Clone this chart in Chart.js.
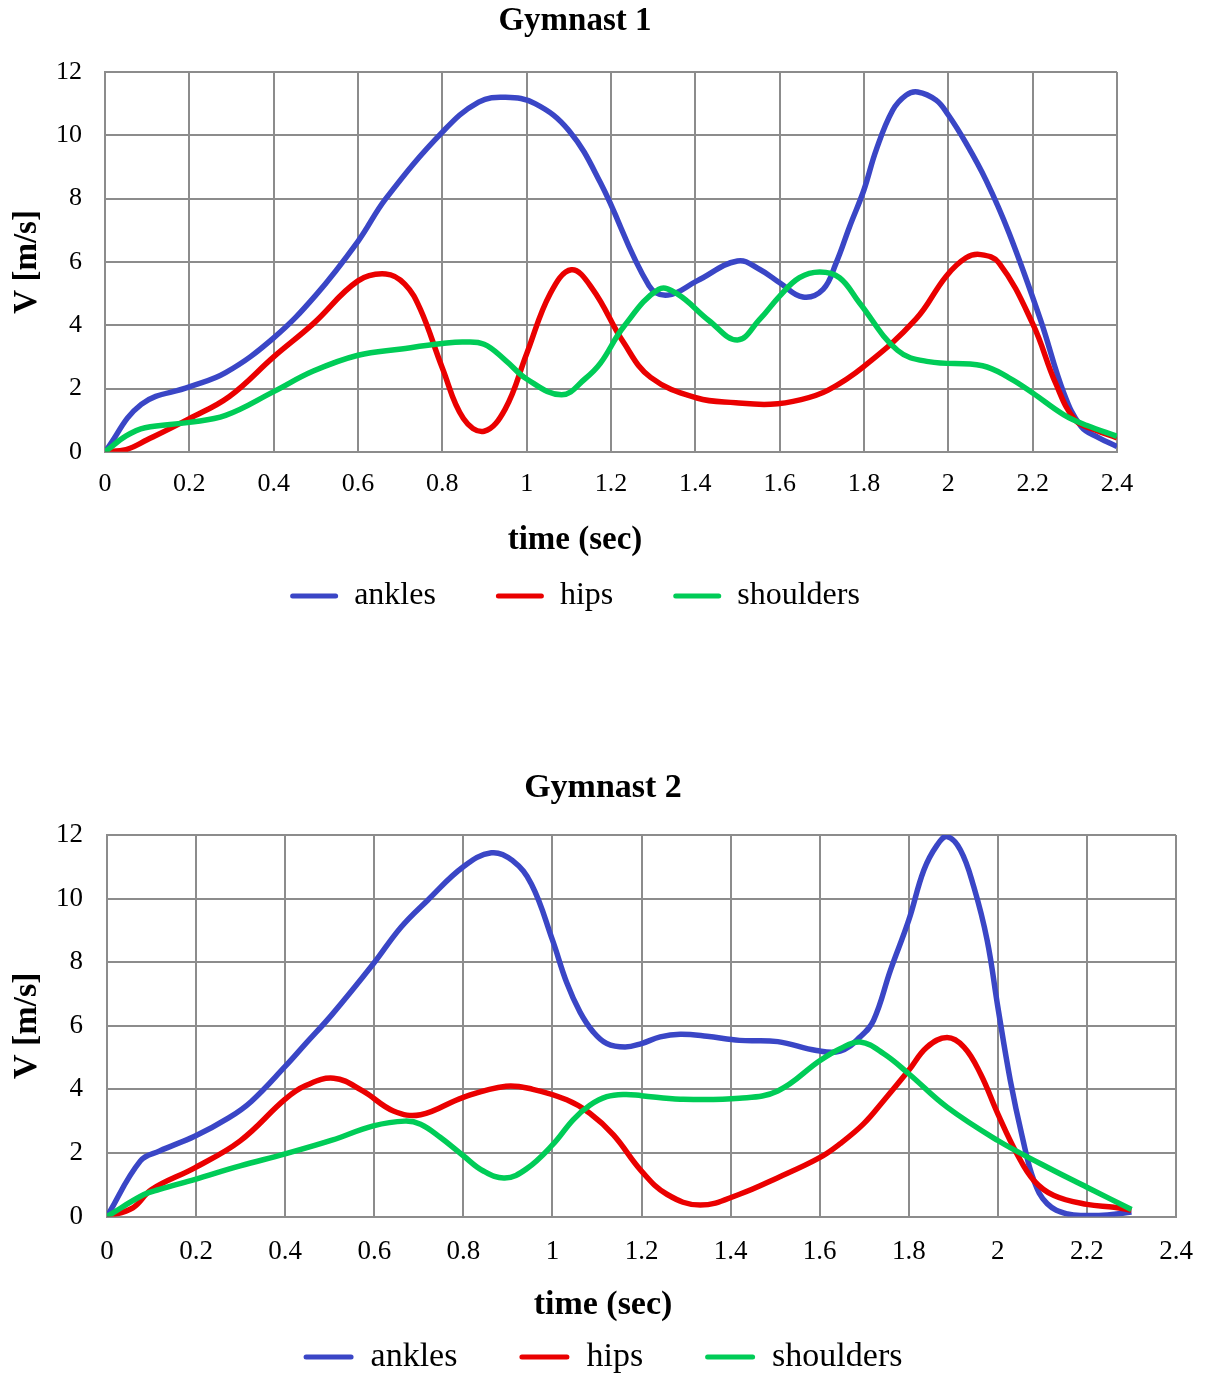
<!DOCTYPE html>
<html>
<head>
<meta charset="utf-8">
<title>Gymnast velocities</title>
<script src="https://cdn.jsdelivr.net/npm/chart.js@4.4.1/dist/chart.umd.min.js"></script>
<style>
  html, body { margin: 0; padding: 0; background: #fff; overflow: hidden; }
  .box { position: absolute; left: 0; width: 1206px; }
  #box1 { top: 0; height: 622px; }
  #box2 { top: 760px; height: 624px; }
</style>
</head>
<body>
<div class="box" id="box1"><canvas id="chart1"></canvas></div>
<div class="box" id="box2"><canvas id="chart2"></canvas></div>

<script>
// series names and colours
const seriesNames = ['ankles', 'hips', 'shoulders'];
const seriesColors = ['#3a46c6', '#ea0000', '#00cc57'];

// Gymnast 1 - time (sec) / V (m/s)
const g1AnklesT = [0, 0.086, 0.2, 0.286, 0.4, 0.5, 0.6, 0.666, 0.8, 0.886, 0.95, 1.02, 1.1, 1.175, 1.29, 1.335, 1.404, 1.5, 1.553, 1.6, 1.655, 1.703, 1.734, 1.766, 1.8, 1.829, 1.868, 1.9, 1.927, 1.971, 2.0, 2.042, 2.089, 2.144, 2.219, 2.274, 2.315, 2.356, 2.4];
const g1AnklesV = [0, 1.5, 2.05, 2.5, 3.6, 4.95, 6.65, 8.0, 10.1, 11.05, 11.2, 11.0, 10.15, 8.5, 5.25, 4.95, 5.4, 6.03, 5.76, 5.34, 4.89, 5.13, 5.97, 7.12, 8.28, 9.54, 10.79, 11.27, 11.37, 11.11, 10.64, 9.75, 8.59, 6.91, 4.15, 1.85, 0.8, 0.45, 0.17];

const g1HipsT = [0, 0.05, 0.1, 0.2, 0.295, 0.4, 0.494, 0.6, 0.666, 0.711, 0.748, 0.8, 0.85, 0.899, 0.949, 1.0, 1.056, 1.106, 1.156, 1.23, 1.294, 1.404, 1.496, 1.578, 1.651, 1.715, 1.8, 1.923, 1.995, 2.042, 2.077, 2.12, 2.2, 2.255, 2.301, 2.347, 2.4];
const g1HipsV = [0, 0.07, 0.38, 1.05, 1.75, 3.0, 4.05, 5.4, 5.62, 5.3, 4.5, 2.65, 1.05, 0.65, 1.35, 3.1, 5.0, 5.75, 5.15, 3.45, 2.35, 1.7, 1.55, 1.5, 1.65, 1.95, 2.7, 4.19, 5.55, 6.13, 6.23, 5.97, 4.05, 2.15, 1.0, 0.7, 0.44];

const g1ShouldersT = [0, 0.05, 0.095, 0.2, 0.286, 0.4, 0.494, 0.6, 0.703, 0.8, 0.85, 0.899, 0.949, 1.0, 1.083, 1.138, 1.175, 1.23, 1.313, 1.358, 1.432, 1.5, 1.553, 1.6, 1.647, 1.695, 1.742, 1.789, 1.88, 1.953, 2.081, 2.145, 2.2, 2.274, 2.329, 2.4];
const g1ShouldersV = [0, 0.5, 0.76, 0.93, 1.15, 1.9, 2.55, 3.05, 3.25, 3.42, 3.47, 3.4, 2.9, 2.3, 1.8, 2.3, 2.8, 3.95, 5.13, 4.98, 4.15, 3.53, 4.19, 4.92, 5.5, 5.68, 5.5, 4.71, 3.2, 2.85, 2.72, 2.33, 1.86, 1.17, 0.83, 0.49];

// Gymnast 2
const g2AnklesT = [0, 0.075, 0.118, 0.198, 0.273, 0.324, 0.4, 0.445, 0.505, 0.598, 0.66, 0.72, 0.8, 0.863, 0.91, 0.953, 1.0, 1.032, 1.062, 1.092, 1.122, 1.163, 1.2, 1.242, 1.287, 1.347, 1.42, 1.506, 1.593, 1.646, 1.691, 1.721, 1.759, 1.8, 1.834, 1.864, 1.886, 1.916, 1.946, 1.976, 2.0, 2.028, 2.055, 2.081, 2.111, 2.156, 2.2, 2.246, 2.3];
const g2AnklesV = [0, 1.75, 2.06, 2.53, 3.1, 3.62, 4.72, 5.42, 6.35, 7.95, 9.1, 9.95, 11.0, 11.44, 11.2, 10.45, 8.7, 7.36, 6.43, 5.8, 5.44, 5.33, 5.44, 5.65, 5.73, 5.67, 5.54, 5.5, 5.22, 5.2, 5.65, 6.17, 7.75, 9.32, 10.9, 11.69, 11.95, 11.53, 10.37, 8.69, 6.59, 4.28, 2.5, 1.13, 0.4, 0.08, 0.03, 0.05, 0.14];

const g2HipsT = [0, 0.058, 0.1, 0.198, 0.299, 0.4, 0.445, 0.509, 0.574, 0.643, 0.704, 0.8, 0.896, 0.956, 1.032, 1.084, 1.137, 1.2, 1.257, 1.332, 1.42, 1.506, 1.6, 1.646, 1.699, 1.744, 1.8, 1.841, 1.886, 1.924, 1.961, 2.0, 2.043, 2.081, 2.126, 2.2, 2.261, 2.3];
const g2HipsV = [0, 0.27, 0.85, 1.54, 2.38, 3.69, 4.11, 4.35, 3.95, 3.32, 3.2, 3.75, 4.1, 4.0, 3.67, 3.25, 2.57, 1.43, 0.7, 0.36, 0.7, 1.22, 1.85, 2.29, 2.92, 3.65, 4.6, 5.33, 5.63, 5.33, 4.49, 3.23, 1.97, 1.13, 0.66, 0.38, 0.29, 0.2];

const g2ShouldersT = [0, 0.083, 0.118, 0.198, 0.299, 0.4, 0.505, 0.598, 0.669, 0.704, 0.748, 0.8, 0.844, 0.893, 0.941, 1.0, 1.047, 1.084, 1.122, 1.163, 1.2, 1.287, 1.42, 1.506, 1.6, 1.646, 1.691, 1.744, 1.8, 1.886, 2.0, 2.096, 2.2, 2.3];
const g2ShouldersV = [0, 0.69, 0.85, 1.17, 1.59, 1.97, 2.4, 2.85, 3.0, 2.9, 2.49, 1.91, 1.44, 1.21, 1.49, 2.25, 3.05, 3.5, 3.77, 3.84, 3.8, 3.69, 3.72, 3.95, 4.9, 5.28, 5.49, 5.12, 4.49, 3.44, 2.39, 1.66, 0.92, 0.22];

// axis ticks
const xTickStep = 0.2, xMax = 2.4;
const yTickStep = 2, yMax = 12;

const FONT = "'Liberation Serif', 'Times New Roman', serif";
const GRID = '#8c8c8c';

function toPoints(ts, vs) {
  return ts.map((t, i) => ({ x: t, y: vs[i] }));
}

function buildChart(id, o) {
  const datasets = o.series.map((s, i) => ({
    label: seriesNames[i],
    data: toPoints(s[0], s[1]),
    borderColor: seriesColors[i],
    backgroundColor: seriesColors[i],
    borderWidth: 5.5,
    pointRadius: 0,
    tension: 0.4,
    fill: false,
    order: 3 - i   // shoulders drawn on top, like the original
  }));

  return new Chart(document.getElementById(id), {
    type: 'line',
    data: { datasets },
    options: {
      responsive: true,
      maintainAspectRatio: false,
      animation: false,
      events: [],
      layout: { padding: { left: o.padL, right: o.padR, top: 0, bottom: 0 } },
      plugins: {
        tooltip: { enabled: false },
        title: {
          display: true,
          text: o.title,
          color: '#000',
          font: { family: FONT, size: o.big, weight: 'bold' },
          padding: { top: o.titleTop, bottom: o.titleBottom }
        },
        legend: {
          position: 'bottom',
          // axis caption sits centred above the legend, as in the original
          title: {
            display: true,
            text: 'time (sec)',
            color: '#000',
            font: { family: FONT, size: o.big, weight: 'bold' },
            padding: { top: o.legTitleTop, bottom: o.legTitleBottom }
          },
          labels: {
            color: '#000',
            font: { family: FONT, size: o.legSize },
            boxWidth: o.boxW,
            boxHeight: 5,
            padding: o.legPad,
            sort: (a, b) => a.datasetIndex - b.datasetIndex,
            generateLabels: chart => Chart.defaults.plugins.legend.labels.generateLabels(chart)
              .map(l => Object.assign(l, { fillStyle: l.strokeStyle, lineWidth: 0, borderRadius: 2.5 }))
          }
        }
      },
      scales: {
        x: {
          type: 'linear',
          min: 0,
          max: xMax,
          ticks: {
            stepSize: xTickStep,
            padding: 0,
            color: '#000',
            maxRotation: 0,
            autoSkip: false,
            font: { family: FONT, size: o.tick },
            callback: v => String(Number(v.toFixed(2)))
          },
          // invisible tick marks give the gap under the axis
          grid: { color: GRID, lineWidth: 2, drawTicks: true, tickLength: o.xTickPad, tickColor: 'rgba(0,0,0,0)' },
          border: { color: GRID, width: 2 },
          afterFit: s => { s.height = o.xAxisH; }
        },
        y: {
          min: 0,
          max: yMax,
          ticks: {
            stepSize: yTickStep,
            padding: o.yTickPad,
            color: '#000',
            font: { family: FONT, size: o.tick }
          },
          title: {
            display: true,
            text: 'V [m/s]',
            color: '#000',
            font: { family: FONT, size: o.big, weight: 'bold' },
            padding: { top: o.yTitlePad, bottom: 0 }
          },
          grid: { color: GRID, lineWidth: 2, drawTicks: false },
          border: { color: GRID, width: 2 },
          afterFit: s => { s.width = o.yAxisW; }
        }
      }
    }
  });
}

buildChart('chart1', {
  title: 'Gymnast 1',
  series: [[g1AnklesT, g1AnklesV], [g1HipsT, g1HipsV], [g1ShouldersT, g1ShouldersV]],
  big: 33, tick: 26, legSize: 32,
  padL: 33, padR: 89,
  titleTop: 2, titleBottom: 30.4,
  yAxisW: 72, yTickPad: 23, yTitlePad: -25,
  xTickPad: 17, xAxisH: 50,
  legTitleTop: 22, legTitleBottom: -43.4,
  boxW: 48, legPad: 60
});

buildChart('chart2', {
  title: 'Gymnast 2',
  series: [[g2AnklesT, g2AnklesV], [g2HipsT, g2HipsV], [g2ShouldersT, g2ShouldersV]],
  big: 34, tick: 27, legSize: 34,
  padL: 30, padR: 30,
  titleTop: 8, titleBottom: 26.2,
  yAxisW: 77, yTickPad: 24, yTitlePad: -23,
  xTickPad: 19, xAxisH: 50,
  legTitleTop: 22, legTitleBottom: -51.3,
  boxW: 50, legPad: 62
});
</script>
</body>
</html>
